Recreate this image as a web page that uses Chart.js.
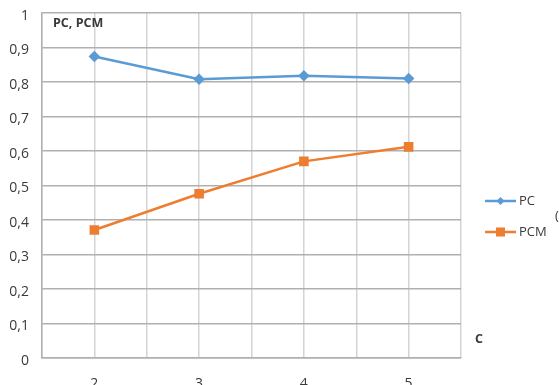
<!DOCTYPE html>
<html lang="es">
<head>
  <meta charset="UTF-8" />
  <title>PC, PCM</title>
  <script src="https://cdn.jsdelivr.net/npm/chart.js"></script>
  <style>
    html, body { margin: 0; padding: 0; background: #fff; }
    #wrap { width: 559px; height: 385px; position: relative; }
  </style>
</head>
<body>
  <div id="wrap"><canvas id="grafico"></canvas></div>

  <script>
    const categorias = [2, 3, 4, 5];
    const valoresPC = [0.874, 0.808, 0.818, 0.810];
    const valoresPCM = [0.371, 0.476, 0.570, 0.612];
    const ticksY = [0, 0.1, 0.2, 0.3, 0.4, 0.5, 0.6, 0.7, 0.8, 0.9, 1];

    const fuente = "'Open Sans', 'Liberation Sans', sans-serif";
    const colorTexto = '#3a3a3a';

    const puntos = (vals) => vals.map((v, i) => ({ x: categorias[i], y: v }));

    // textos sueltos y leyenda a la derecha
    const extras = {
      id: 'extras',
      afterDraw(chart) {
        const ctx = chart.ctx;
        const area = chart.chartArea;
        ctx.save();
        ctx.fillStyle = colorTexto;
        ctx.textBaseline = 'middle';
        ctx.font = 'bold 12.5px ' + fuente;
        ctx.fillText('PC, PCM', area.left + 11, area.top + 10);
        ctx.fillText('C', area.right + 14, 339);
        ctx.font = '13px ' + fuente;
        ctx.fillText('(', 555, 216);

        const filas = [201, 232];
        chart.data.datasets.forEach((ds, i) => {
          const y = filas[i];
          ctx.strokeStyle = ds.borderColor;
          ctx.lineWidth = 2.5;
          ctx.beginPath();
          ctx.moveTo(485, y);
          ctx.lineTo(516, y);
          ctx.stroke();
          ctx.fillStyle = ds.pointBackgroundColor;
          if (ds.pointStyle === 'rect') {
            ctx.fillRect(496, y - 4.5, 9, 9);
          } else {
            ctx.beginPath();
            ctx.moveTo(500.5, y - 4);
            ctx.lineTo(504.5, y);
            ctx.lineTo(500.5, y + 4);
            ctx.lineTo(496.5, y);
            ctx.closePath();
            ctx.fill();
          }
          ctx.fillStyle = colorTexto;
          ctx.font = '13px ' + fuente;
          ctx.fillText(ds.label, 519, y);
        });
        ctx.restore();
      }
    };

    new Chart(document.getElementById('grafico'), {
      type: 'line',
      data: {
        datasets: [
          {
            label: 'PC',
            data: puntos(valoresPC),
            borderColor: '#5b9bd5',
            backgroundColor: '#5b9bd5',
            pointBackgroundColor: '#5b9bd5',
            pointBorderColor: '#5b9bd5',
            pointStyle: 'rectRot',
            pointRadius: 4,
            borderWidth: 2.5,
            tension: 0
          },
          {
            label: 'PCM',
            data: puntos(valoresPCM),
            borderColor: '#ed7d31',
            backgroundColor: '#ed7d31',
            pointBackgroundColor: '#ed7d31',
            pointBorderColor: '#ed7d31',
            pointStyle: 'rect',
            pointRadius: 5,
            borderWidth: 2.5,
            tension: 0
          }
        ]
      },
      options: {
        responsive: true,
        maintainAspectRatio: false,
        animation: false,
        layout: { padding: { top: 13, right: 98, left: 0, bottom: 0 } },
        plugins: { legend: { display: false }, tooltip: { enabled: false } },
        scales: {
          x: {
            type: 'linear',
            min: 1.5,
            max: 5.5,
            afterFit: (s) => { s.height = 27; s.paddingLeft = 0; s.paddingRight = 0; },
            grid: { color: '#d4d4d4', lineWidth: 1.5, drawTicks: false },
            border: { color: '#b0b0b0', width: 1.5 },
            ticks: {
              stepSize: 0.5,
              autoSkip: false,
              maxRotation: 0,
              padding: 18,
              color: colorTexto,
              font: { family: fuente, size: 14 },
              callback: (v) => categorias.includes(v) ? String(v) : ''
            }
          },
          y: {
            min: 0,
            max: 1,
            afterFit: (s) => { s.width = 42; s.paddingTop = 0; s.paddingBottom = 0; },
            afterBuildTicks: (s) => { s.ticks = ticksY.map(v => ({ value: v })); },
            grid: { color: '#b0b0b0', lineWidth: 1.5, drawTicks: false },
            border: { color: '#b0b0b0', width: 1.5 },
            ticks: {
              padding: 13,
              labelOffset: 3,
              color: colorTexto,
              font: { family: fuente, size: 14 },
              callback: (v) => (v === 0 || v === 1) ? String(v) : v.toFixed(1).replace('.', ',')
            }
          }
        }
      },
      plugins: [extras]
    });
  </script>
</body>
</html>
